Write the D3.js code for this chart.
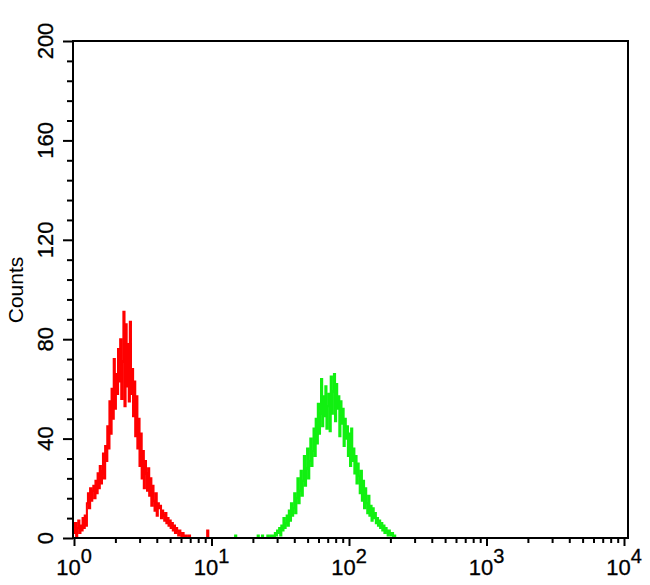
<!DOCTYPE html>
<html><head><meta charset="utf-8">
<script src="https://cdn.jsdelivr.net/npm/d3@7"></script>
<style>body{margin:0;background:#fff} svg{display:block}</style>
</head><body><svg id="c" width="650" height="585"></svg>
<script>
// ---- data ----
const channelsPerDecade = 128;
const redStart = 0;
const redCounts = [
 2,6,0,4,7,2,5,3,8,4,
 9,5,14,18,12,20,15,19,21,16,
 23,18,26,20,29,22,27,34,24,37,
 31,45,36,55,42,60,48,72,52,66,
 58,76,63,80,56,71,91,53,86,61,
 78,55,87,58,68,49,63,41,57,36,
 48,29,42,24,35,20,31,26,19,28,
 17,24,13,21,15,11,18,9,14,12,
 13,8,11,9,7,10,6,8,5,7,
 4,6,3,5,2,4,3,1,3,2,
 0,2,1,0,1,0,0,1,0,0,
 0,0,0,0,0,0,0,0,0,0,
 0,0,0,0,3,0
];
const greenStart = 148;
const greenCounts = [
 0,0,1,0,0,0,0,0,0,0,0,0,0,0,0,0,0,0,0,0,0,0,
 0,1,0,0,0,1,0,0,0,0,
 1,0,0,1,0,1,0,2,1,3,
 2,4,1,5,3,8,4,6,9,5,
 11,7,14,9,12,18,10,16,24,14,
 19,27,17,23,33,21,28,36,24,31,
 40,29,35,44,33,48,38,54,42,50,
 64,45,57,49,61,44,53,58,43,65,
 50,59,66,47,62,52,57,41,55,46,
 52,37,48,40,45,33,42,29,44,31,
 36,26,33,22,30,25,18,27,15,23,
 12,20,14,10,17,9,13,7,12,8,
 10,6,8,5,7,4,6,3,5,2,
 4,3,1,3,2,1,2,0,1,0,
 0,0
];
const yMajorTicks = [0,40,80,120,160,200];
const yMinorStep = 8;
const xMajorTicks = [1,10,100,1000,10000];
const xExponents = ["0","1","2","3","4"];
const yLabel = "Counts";

// ---- layout ----
const svg = d3.select("#c");
const x = d3.scaleLog().domain([1,10000]).range([74,624]);
const y = d3.scaleLinear().domain([0,200]).range([538,41]);
const font = "'Liberation Sans', Arial, Helvetica, sans-serif";

function toPoints(start, counts){
  const pts = counts.map((c,i)=>[Math.pow(10,(start+i)/channelsPerDecade), c]);
  pts.push([Math.pow(10,(start+counts.length)/channelsPerDecade), counts[counts.length-1]]);
  return pts;
}
const line = d3.line().x(d=>x(d[0])).y(d=>y(d[1])).curve(d3.curveStepAfter);

svg.append("path").datum(toPoints(redStart, redCounts))
  .attr("d", line).attr("fill","none").attr("stroke","#ff0000").attr("stroke-width",2.1);
svg.append("path").datum(toPoints(greenStart, greenCounts))
  .attr("d", line).attr("fill","none").attr("stroke","#11f011").attr("stroke-width",2.1);

// frame
svg.append("rect").attr("x",73).attr("y",41).attr("width",628-73).attr("height",538-41)
  .attr("fill","none").attr("stroke","#000").attr("stroke-width",2);

// y axis ticks
const yMinor = d3.range(0,201,yMinorStep).filter(v=>!yMajorTicks.includes(v));
const yAx1 = svg.append("g").attr("transform","translate(73,0)")
  .call(d3.axisLeft(y).tickValues(yMinor).tickSize(6).tickSizeOuter(0).tickFormat(""));
const yAx2 = svg.append("g").attr("transform","translate(73,0)")
  .call(d3.axisLeft(y).tickValues(yMajorTicks).tickSize(10).tickSizeOuter(0).tickFormat(""));
// x axis ticks
const xMinor = x.ticks().filter(v=>!xMajorTicks.includes(v));
const xAx1 = svg.append("g").attr("transform","translate(0,538)")
  .call(d3.axisBottom(x).tickValues(xMinor).tickSize(5).tickSizeOuter(0).tickFormat(""));
const xAx2 = svg.append("g").attr("transform","translate(0,538)")
  .call(d3.axisBottom(x).tickValues(xMajorTicks).tickSize(8).tickSizeOuter(0).tickFormat(""));
[yAx1,yAx2,xAx1,xAx2].forEach(g=>{
  g.select(".domain").remove();
  g.selectAll(".tick line").attr("stroke","#000").attr("stroke-width",2);
});

// y labels
svg.selectAll("text.ylab").data(yMajorTicks).enter().append("text")
  .attr("class","ylab")
  .attr("transform", d=>`translate(52.5,${y(d)}) rotate(-90)`)
  .attr("text-anchor","middle")
  .attr("font-family",font).attr("font-size",22).attr("fill","#000")
  .attr("stroke","#000").attr("stroke-width",0.3)
  .text(d=>d);

// x labels
const xl = svg.selectAll("text.xlab").data(xMajorTicks).enter().append("text")
  .attr("class","xlab")
  .attr("x", d=>x(d)).attr("y",575)
  .attr("text-anchor","middle")
  .attr("font-family",font).attr("font-size",22).attr("fill","#000")
  .attr("stroke","#000").attr("stroke-width",0.3);
xl.append("tspan").text("10");
xl.append("tspan").attr("dy",-12).attr("font-size",20).text((d,i)=>xExponents[i]);

// axis title
svg.append("text")
  .attr("transform","translate(23,290) rotate(-90)")
  .attr("text-anchor","middle")
  .attr("font-family",font).attr("font-size",21).attr("fill","#000")
  .text(yLabel);
</script>
</body></html>
